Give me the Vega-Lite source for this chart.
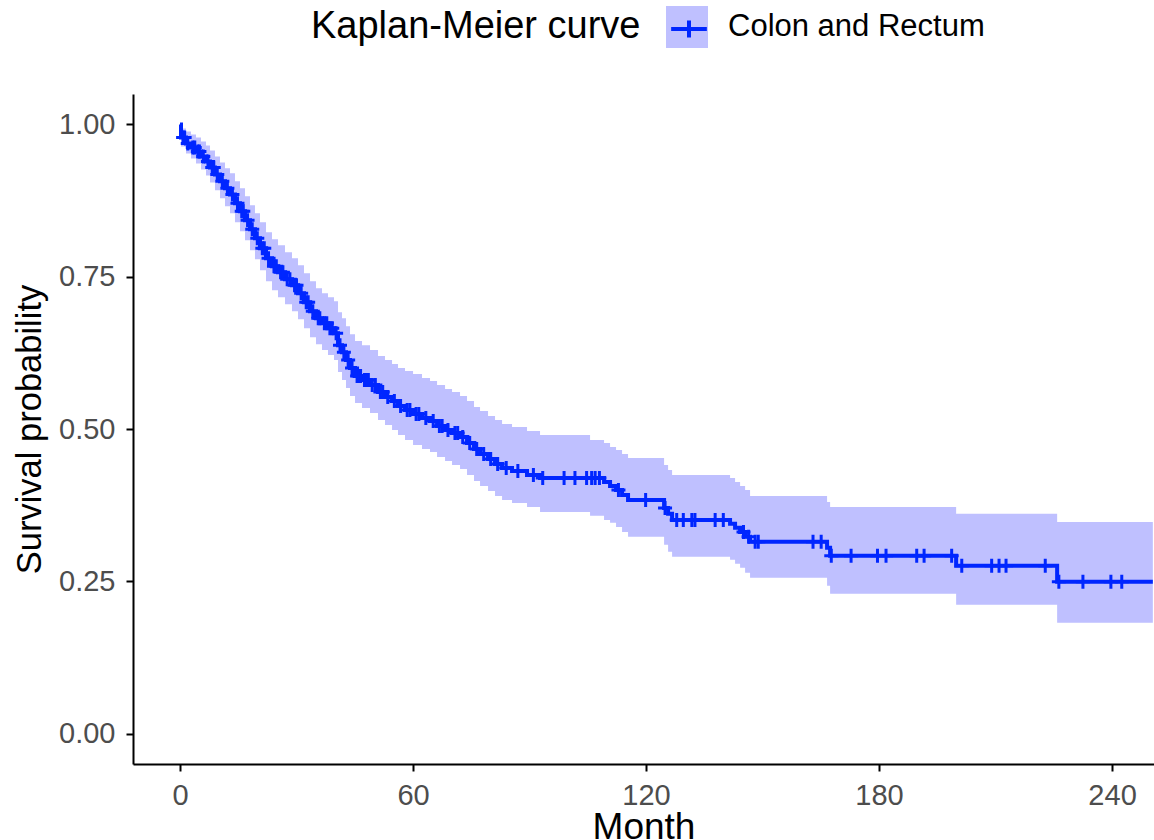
{
  "$schema": "https://vega.github.io/schema/vega-lite/v6.json",
  "width": 1021,
  "height": 670,
  "autosize": {"type": "none"},
  "padding": {"left": 133, "top": 94, "right": 0, "bottom": 76},
  "background": "white",
  "config": {
    "view": {"stroke": null},
    "font": "Liberation Sans",
    "axis": {
      "domainColor": "black", "domainWidth": 2,
      "tickColor": "black", "tickWidth": 2, "tickSize": 7,
      "labelColor": "#4d4d4d", "labelFont": "Liberation Sans", "labelFontSize": 29, "labelPadding": 10,
      "titleFont": "Liberation Sans", "titleFontWeight": "normal", "titleColor": "black",
      "grid": false
    }
  },
  "datasets": {
    "km": [
      {"t":0,"s":1,"hi":1,"lo":1,"group":"Colon and Rectum"},
      {"t":0.26,"s":0.9787,"hi":0.9934,"lo":0.9639,"group":"Colon and Rectum"},
      {"t":1.55,"s":0.9689,"hi":0.9885,"lo":0.9525,"group":"Colon and Rectum"},
      {"t":2.83,"s":0.9623,"hi":0.9836,"lo":0.9443,"group":"Colon and Rectum"},
      {"t":4.12,"s":0.9557,"hi":0.9787,"lo":0.9361,"group":"Colon and Rectum"},
      {"t":5.41,"s":0.9475,"hi":0.9721,"lo":0.9262,"group":"Colon and Rectum"},
      {"t":6.70,"s":0.9393,"hi":0.9656,"lo":0.9164,"group":"Colon and Rectum"},
      {"t":7.73,"s":0.9295,"hi":0.9574,"lo":0.9049,"group":"Colon and Rectum"},
      {"t":9.01,"s":0.9180,"hi":0.9475,"lo":0.8918,"group":"Colon and Rectum"},
      {"t":10.30,"s":0.9066,"hi":0.9377,"lo":0.8787,"group":"Colon and Rectum"},
      {"t":11.59,"s":0.8951,"hi":0.9279,"lo":0.8656,"group":"Colon and Rectum"},
      {"t":12.88,"s":0.8852,"hi":0.9197,"lo":0.8541,"group":"Colon and Rectum"},
      {"t":14.16,"s":0.8705,"hi":0.9066,"lo":0.8393,"group":"Colon and Rectum"},
      {"t":15.45,"s":0.8574,"hi":0.8951,"lo":0.8246,"group":"Colon and Rectum"},
      {"t":16.74,"s":0.8426,"hi":0.8820,"lo":0.8098,"group":"Colon and Rectum"},
      {"t":18.03,"s":0.8279,"hi":0.8672,"lo":0.7934,"group":"Colon and Rectum"},
      {"t":19.31,"s":0.8131,"hi":0.8541,"lo":0.7787,"group":"Colon and Rectum"},
      {"t":20.60,"s":0.7967,"hi":0.8393,"lo":0.7607,"group":"Colon and Rectum"},
      {"t":22.15,"s":0.7803,"hi":0.8230,"lo":0.7426,"group":"Colon and Rectum"},
      {"t":23.69,"s":0.7672,"hi":0.8115,"lo":0.7279,"group":"Colon and Rectum"},
      {"t":25.24,"s":0.7574,"hi":0.8016,"lo":0.7164,"group":"Colon and Rectum"},
      {"t":27.04,"s":0.7459,"hi":0.7902,"lo":0.7049,"group":"Colon and Rectum"},
      {"t":28.84,"s":0.7361,"hi":0.7803,"lo":0.6934,"group":"Colon and Rectum"},
      {"t":30.39,"s":0.7230,"hi":0.7689,"lo":0.6803,"group":"Colon and Rectum"},
      {"t":31.93,"s":0.7082,"hi":0.7557,"lo":0.6656,"group":"Colon and Rectum"},
      {"t":33.48,"s":0.6934,"hi":0.7426,"lo":0.6508,"group":"Colon and Rectum"},
      {"t":35.02,"s":0.6820,"hi":0.7311,"lo":0.6393,"group":"Colon and Rectum"},
      {"t":36.57,"s":0.6738,"hi":0.7230,"lo":0.6295,"group":"Colon and Rectum"},
      {"t":38.11,"s":0.6656,"hi":0.7164,"lo":0.6213,"group":"Colon and Rectum"},
      {"t":39.66,"s":0.6574,"hi":0.7098,"lo":0.6131,"group":"Colon and Rectum"},
      {"t":40.69,"s":0.6377,"hi":0.6918,"lo":0.5934,"group":"Colon and Rectum"},
      {"t":41.72,"s":0.6262,"hi":0.6820,"lo":0.5803,"group":"Colon and Rectum"},
      {"t":42.75,"s":0.6131,"hi":0.6689,"lo":0.5672,"group":"Colon and Rectum"},
      {"t":43.78,"s":0.6000,"hi":0.6557,"lo":0.5541,"group":"Colon and Rectum"},
      {"t":45.07,"s":0.5869,"hi":0.6443,"lo":0.5426,"group":"Colon and Rectum"},
      {"t":46.87,"s":0.5803,"hi":0.6377,"lo":0.5344,"group":"Colon and Rectum"},
      {"t":48.93,"s":0.5721,"hi":0.6295,"lo":0.5262,"group":"Colon and Rectum"},
      {"t":50.99,"s":0.5607,"hi":0.6197,"lo":0.5148,"group":"Colon and Rectum"},
      {"t":52.79,"s":0.5525,"hi":0.6131,"lo":0.5066,"group":"Colon and Rectum"},
      {"t":54.60,"s":0.5459,"hi":0.6066,"lo":0.4984,"group":"Colon and Rectum"},
      {"t":56.14,"s":0.5377,"hi":0.6000,"lo":0.4902,"group":"Colon and Rectum"},
      {"t":57.94,"s":0.5311,"hi":0.5951,"lo":0.4820,"group":"Colon and Rectum"},
      {"t":60.01,"s":0.5246,"hi":0.5902,"lo":0.4738,"group":"Colon and Rectum"},
      {"t":62.32,"s":0.5180,"hi":0.5836,"lo":0.4672,"group":"Colon and Rectum"},
      {"t":64.38,"s":0.5131,"hi":0.5787,"lo":0.4623,"group":"Colon and Rectum"},
      {"t":66.19,"s":0.5049,"hi":0.5721,"lo":0.4541,"group":"Colon and Rectum"},
      {"t":68.25,"s":0.4984,"hi":0.5656,"lo":0.4475,"group":"Colon and Rectum"},
      {"t":70.05,"s":0.4934,"hi":0.5607,"lo":0.4410,"group":"Colon and Rectum"},
      {"t":72.11,"s":0.4869,"hi":0.5541,"lo":0.4344,"group":"Colon and Rectum"},
      {"t":73.91,"s":0.4770,"hi":0.5459,"lo":0.4246,"group":"Colon and Rectum"},
      {"t":75.71,"s":0.4672,"hi":0.5361,"lo":0.4148,"group":"Colon and Rectum"},
      {"t":77.26,"s":0.4590,"hi":0.5295,"lo":0.4066,"group":"Colon and Rectum"},
      {"t":79.32,"s":0.4508,"hi":0.5213,"lo":0.3984,"group":"Colon and Rectum"},
      {"t":81.12,"s":0.4426,"hi":0.5148,"lo":0.3902,"group":"Colon and Rectum"},
      {"t":82.93,"s":0.4361,"hi":0.5082,"lo":0.3836,"group":"Colon and Rectum"},
      {"t":85.50,"s":0.4311,"hi":0.5033,"lo":0.3787,"group":"Colon and Rectum"},
      {"t":89.36,"s":0.4246,"hi":0.4967,"lo":0.3721,"group":"Colon and Rectum"},
      {"t":92.71,"s":0.4197,"hi":0.4902,"lo":0.3639,"group":"Colon and Rectum"},
      {"t":105.59,"s":0.4197,"hi":0.4820,"lo":0.3574,"group":"Colon and Rectum"},
      {"t":109.19,"s":0.4131,"hi":0.4770,"lo":0.3508,"group":"Colon and Rectum"},
      {"t":110.74,"s":0.4066,"hi":0.4705,"lo":0.3459,"group":"Colon and Rectum"},
      {"t":112.28,"s":0.4000,"hi":0.4656,"lo":0.3393,"group":"Colon and Rectum"},
      {"t":113.83,"s":0.3918,"hi":0.4590,"lo":0.3311,"group":"Colon and Rectum"},
      {"t":115.37,"s":0.3836,"hi":0.4525,"lo":0.3230,"group":"Colon and Rectum"},
      {"t":124.65,"s":0.3705,"hi":0.4410,"lo":0.3098,"group":"Colon and Rectum"},
      {"t":125.68,"s":0.3607,"hi":0.4328,"lo":0.2984,"group":"Colon and Rectum"},
      {"t":126.71,"s":0.3508,"hi":0.4246,"lo":0.2902,"group":"Colon and Rectum"},
      {"t":141.64,"s":0.3443,"hi":0.4197,"lo":0.2852,"group":"Colon and Rectum"},
      {"t":142.93,"s":0.3377,"hi":0.4131,"lo":0.2787,"group":"Colon and Rectum"},
      {"t":144.22,"s":0.3311,"hi":0.4066,"lo":0.2721,"group":"Colon and Rectum"},
      {"t":145.51,"s":0.3230,"hi":0.4000,"lo":0.2639,"group":"Colon and Rectum"},
      {"t":146.79,"s":0.3148,"hi":0.3902,"lo":0.2557,"group":"Colon and Rectum"},
      {"t":166.62,"s":0.3049,"hi":0.3803,"lo":0.2426,"group":"Colon and Rectum"},
      {"t":167.40,"s":0.2918,"hi":0.3721,"lo":0.2295,"group":"Colon and Rectum"},
      {"t":199.85,"s":0.2754,"hi":0.3607,"lo":0.2115,"group":"Colon and Rectum"},
      {"t":225.86,"s":0.2492,"hi":0.3475,"lo":0.1820,"group":"Colon and Rectum"},
      {"t":250.5,"s":0.2492,"hi":0.3475,"lo":0.1820,"group":"Colon and Rectum"}
    ],
    "cens": [
      {"t":0.8,"s":0.9787,"group":"Colon and Rectum"},
      {"t":1.2,"s":0.9787,"group":"Colon and Rectum"},
      {"t":2.0,"s":0.9689,"group":"Colon and Rectum"},
      {"t":3.3,"s":0.9623,"group":"Colon and Rectum"},
      {"t":3.8,"s":0.9623,"group":"Colon and Rectum"},
      {"t":4.6,"s":0.9557,"group":"Colon and Rectum"},
      {"t":5.0,"s":0.9557,"group":"Colon and Rectum"},
      {"t":6.0,"s":0.9475,"group":"Colon and Rectum"},
      {"t":7.2,"s":0.9393,"group":"Colon and Rectum"},
      {"t":8.3,"s":0.9295,"group":"Colon and Rectum"},
      {"t":8.7,"s":0.9295,"group":"Colon and Rectum"},
      {"t":9.6,"s":0.9180,"group":"Colon and Rectum"},
      {"t":10.9,"s":0.9066,"group":"Colon and Rectum"},
      {"t":12.2,"s":0.8951,"group":"Colon and Rectum"},
      {"t":13.5,"s":0.8852,"group":"Colon and Rectum"},
      {"t":14.8,"s":0.8705,"group":"Colon and Rectum"},
      {"t":15.9,"s":0.8574,"group":"Colon and Rectum"},
      {"t":16.3,"s":0.8574,"group":"Colon and Rectum"},
      {"t":17.4,"s":0.8426,"group":"Colon and Rectum"},
      {"t":18.6,"s":0.8279,"group":"Colon and Rectum"},
      {"t":19.9,"s":0.8131,"group":"Colon and Rectum"},
      {"t":21.2,"s":0.7967,"group":"Colon and Rectum"},
      {"t":21.7,"s":0.7967,"group":"Colon and Rectum"},
      {"t":22.8,"s":0.7803,"group":"Colon and Rectum"},
      {"t":24.2,"s":0.7672,"group":"Colon and Rectum"},
      {"t":24.8,"s":0.7672,"group":"Colon and Rectum"},
      {"t":25.9,"s":0.7574,"group":"Colon and Rectum"},
      {"t":26.5,"s":0.7574,"group":"Colon and Rectum"},
      {"t":27.6,"s":0.7459,"group":"Colon and Rectum"},
      {"t":28.3,"s":0.7459,"group":"Colon and Rectum"},
      {"t":29.5,"s":0.7361,"group":"Colon and Rectum"},
      {"t":30.0,"s":0.7361,"group":"Colon and Rectum"},
      {"t":31.2,"s":0.7230,"group":"Colon and Rectum"},
      {"t":32.5,"s":0.7082,"group":"Colon and Rectum"},
      {"t":33.0,"s":0.7082,"group":"Colon and Rectum"},
      {"t":34.2,"s":0.6934,"group":"Colon and Rectum"},
      {"t":35.6,"s":0.6820,"group":"Colon and Rectum"},
      {"t":36.0,"s":0.6820,"group":"Colon and Rectum"},
      {"t":37.2,"s":0.6738,"group":"Colon and Rectum"},
      {"t":37.8,"s":0.6738,"group":"Colon and Rectum"},
      {"t":38.6,"s":0.6656,"group":"Colon and Rectum"},
      {"t":39.2,"s":0.6656,"group":"Colon and Rectum"},
      {"t":40.2,"s":0.6574,"group":"Colon and Rectum"},
      {"t":41.2,"s":0.6377,"group":"Colon and Rectum"},
      {"t":42.2,"s":0.6262,"group":"Colon and Rectum"},
      {"t":43.3,"s":0.6131,"group":"Colon and Rectum"},
      {"t":44.3,"s":0.6000,"group":"Colon and Rectum"},
      {"t":45.6,"s":0.5869,"group":"Colon and Rectum"},
      {"t":46.0,"s":0.5869,"group":"Colon and Rectum"},
      {"t":46.5,"s":0.5869,"group":"Colon and Rectum"},
      {"t":47.5,"s":0.5803,"group":"Colon and Rectum"},
      {"t":48.0,"s":0.5803,"group":"Colon and Rectum"},
      {"t":48.5,"s":0.5803,"group":"Colon and Rectum"},
      {"t":49.5,"s":0.5721,"group":"Colon and Rectum"},
      {"t":50.3,"s":0.5721,"group":"Colon and Rectum"},
      {"t":51.6,"s":0.5607,"group":"Colon and Rectum"},
      {"t":52.2,"s":0.5607,"group":"Colon and Rectum"},
      {"t":53.5,"s":0.5525,"group":"Colon and Rectum"},
      {"t":55.2,"s":0.5459,"group":"Colon and Rectum"},
      {"t":56.8,"s":0.5377,"group":"Colon and Rectum"},
      {"t":58.5,"s":0.5311,"group":"Colon and Rectum"},
      {"t":59.2,"s":0.5311,"group":"Colon and Rectum"},
      {"t":60.8,"s":0.5246,"group":"Colon and Rectum"},
      {"t":61.5,"s":0.5246,"group":"Colon and Rectum"},
      {"t":63.3,"s":0.5180,"group":"Colon and Rectum"},
      {"t":65.2,"s":0.5131,"group":"Colon and Rectum"},
      {"t":66.8,"s":0.5049,"group":"Colon and Rectum"},
      {"t":67.5,"s":0.5049,"group":"Colon and Rectum"},
      {"t":69.0,"s":0.4984,"group":"Colon and Rectum"},
      {"t":70.8,"s":0.4934,"group":"Colon and Rectum"},
      {"t":71.5,"s":0.4934,"group":"Colon and Rectum"},
      {"t":72.8,"s":0.4869,"group":"Colon and Rectum"},
      {"t":74.6,"s":0.4770,"group":"Colon and Rectum"},
      {"t":76.4,"s":0.4672,"group":"Colon and Rectum"},
      {"t":78.2,"s":0.4590,"group":"Colon and Rectum"},
      {"t":80.0,"s":0.4508,"group":"Colon and Rectum"},
      {"t":81.8,"s":0.4426,"group":"Colon and Rectum"},
      {"t":84.0,"s":0.4361,"group":"Colon and Rectum"},
      {"t":87.0,"s":0.4311,"group":"Colon and Rectum"},
      {"t":91.0,"s":0.4246,"group":"Colon and Rectum"},
      {"t":93.4,"s":0.4197,"group":"Colon and Rectum"},
      {"t":98.9,"s":0.4197,"group":"Colon and Rectum"},
      {"t":101.7,"s":0.4197,"group":"Colon and Rectum"},
      {"t":104.7,"s":0.4197,"group":"Colon and Rectum"},
      {"t":106.0,"s":0.4197,"group":"Colon and Rectum"},
      {"t":106.9,"s":0.4197,"group":"Colon and Rectum"},
      {"t":108.0,"s":0.4197,"group":"Colon and Rectum"},
      {"t":112.9,"s":0.4000,"group":"Colon and Rectum"},
      {"t":119.9,"s":0.3836,"group":"Colon and Rectum"},
      {"t":124.9,"s":0.3705,"group":"Colon and Rectum"},
      {"t":127.9,"s":0.3508,"group":"Colon and Rectum"},
      {"t":129.6,"s":0.3508,"group":"Colon and Rectum"},
      {"t":131.8,"s":0.3508,"group":"Colon and Rectum"},
      {"t":132.6,"s":0.3508,"group":"Colon and Rectum"},
      {"t":137.8,"s":0.3508,"group":"Colon and Rectum"},
      {"t":139.9,"s":0.3508,"group":"Colon and Rectum"},
      {"t":145.1,"s":0.3311,"group":"Colon and Rectum"},
      {"t":146.4,"s":0.3230,"group":"Colon and Rectum"},
      {"t":148.1,"s":0.3148,"group":"Colon and Rectum"},
      {"t":148.9,"s":0.3148,"group":"Colon and Rectum"},
      {"t":163.0,"s":0.3148,"group":"Colon and Rectum"},
      {"t":165.1,"s":0.3148,"group":"Colon and Rectum"},
      {"t":167.7,"s":0.2918,"group":"Colon and Rectum"},
      {"t":172.8,"s":0.2918,"group":"Colon and Rectum"},
      {"t":179.6,"s":0.2918,"group":"Colon and Rectum"},
      {"t":181.8,"s":0.2918,"group":"Colon and Rectum"},
      {"t":189.7,"s":0.2918,"group":"Colon and Rectum"},
      {"t":191.6,"s":0.2918,"group":"Colon and Rectum"},
      {"t":198.7,"s":0.2918,"group":"Colon and Rectum"},
      {"t":201.3,"s":0.2754,"group":"Colon and Rectum"},
      {"t":209.0,"s":0.2754,"group":"Colon and Rectum"},
      {"t":210.9,"s":0.2754,"group":"Colon and Rectum"},
      {"t":212.7,"s":0.2754,"group":"Colon and Rectum"},
      {"t":222.8,"s":0.2754,"group":"Colon and Rectum"},
      {"t":226.3,"s":0.2492,"group":"Colon and Rectum"},
      {"t":232.5,"s":0.2492,"group":"Colon and Rectum"},
      {"t":239.7,"s":0.2492,"group":"Colon and Rectum"},
      {"t":242.5,"s":0.2492,"group":"Colon and Rectum"}
    ]
  },
  "layer": [
    {
      "data": {"name": "km"},
      "mark": {"type": "area", "interpolate": "step-after", "opacity": 1, "clip": true},
      "encoding": {
        "x": {"field": "t", "type": "quantitative", "scale": {"domain": [-12.1, 250.8], "nice": false, "zero": false},
              "axis": {"title": "Month", "values": [0, 60, 120, 180, 240], "titleFontSize": 37, "titleX": 510.5, "titleY": 74, "titleBaseline": "alphabetic"}},
        "y": {"field": "lo", "type": "quantitative", "scale": {"domain": [-0.05, 1.05], "nice": false, "zero": false},
              "axis": {"title": "Survival probability", "values": [0, 0.25, 0.5, 0.75, 1], "format": ".2f", "titleFontSize": 34.5, "titleX": -93, "titleY": 335, "titleBaseline": "alphabetic", "titleAngle": -90, "labelPadding": 11}},
        "y2": {"field": "hi"},
        "fill": {"field": "group", "type": "nominal", "scale": {"range": ["#bfc0ff"]},
                 "legend": {"title": "Kaplan-Meier curve", "orient": "none", "legendX": 178, "legendY": -88, "direction": "horizontal",
                            "titleOrient": "left", "titleFontSize": 38, "titleFont": "Liberation Sans", "titleFontWeight": "normal", "titleColor": "black",
                            "titlePadding": 25, "titleAnchor": "middle", "titleBaseline": "middle", "titleLimit": 0,
                            "labelFontSize": 31, "labelFont": "Liberation Sans", "labelColor": "black", "labelOffset": 20, "labelLimit": 0,
                            "symbolType": "square", "symbolSize": 1764, "symbolStrokeWidth": 0, "symbolOpacity": 1, "padding": 0, "zindex": 1}}
      }
    },
    {
      "data": {"name": "km"},
      "mark": {"type": "line", "interpolate": "step-after", "color": "#0026ff", "strokeWidth": 4, "clip": true},
      "encoding": {
        "x": {"field": "t", "type": "quantitative"},
        "y": {"field": "s", "type": "quantitative"}
      }
    },
    {
      "data": {"name": "cens"},
      "mark": {"type": "point", "shape": "M-1,0H1M0,-1V1", "size": 196, "filled": false, "strokeWidth": 3, "opacity": 1, "clip": true},
      "encoding": {
        "x": {"field": "t", "type": "quantitative"},
        "y": {"field": "s", "type": "quantitative"},
        "stroke": {"field": "group", "type": "nominal", "scale": {"range": ["#0026ff"]},
                   "legend": {"title": "Kaplan-Meier curve", "orient": "none", "legendX": 178, "legendY": -88, "direction": "horizontal",
                              "titleOrient": "left", "titleFontSize": 38, "titleFont": "Liberation Sans", "titleFontWeight": "normal", "titleColor": "rgba(0,0,0,0)",
                              "titlePadding": 25, "titleAnchor": "middle", "titleBaseline": "middle", "titleLimit": 0,
                              "labelFontSize": 31, "labelFont": "Liberation Sans", "labelColor": "rgba(0,0,0,0)", "labelOffset": 20, "labelLimit": 0,
                              "symbolType": "M-0.85,0H0.85M0,-0.4V0.4", "symbolSize": 1764, "symbolStrokeWidth": 4, "symbolFillColor": "transparent", "symbolOpacity": 1, "padding": 0, "zindex": 2}}
      }
    }
  ]
}
